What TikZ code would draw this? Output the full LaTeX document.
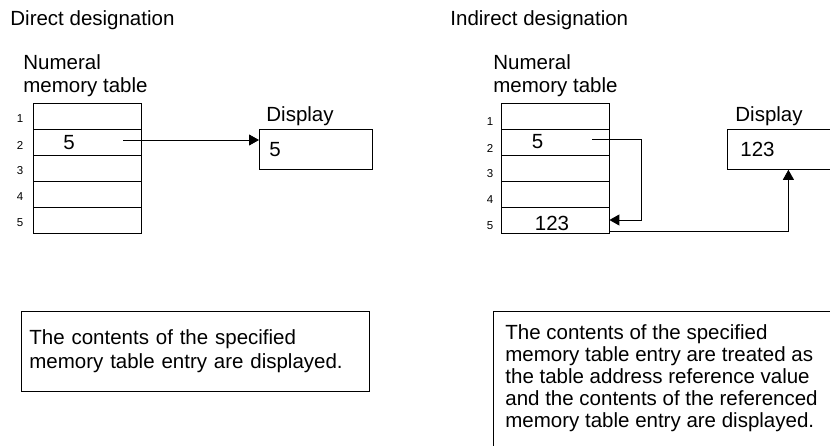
\documentclass[tikz,border=0pt]{standalone}
\usepackage{fontspec}
\setmainfont{Liberation Sans}
\usetikzlibrary{arrows.meta,positioning}

\begin{document}
\begin{tikzpicture}[
  x=1pt, y=-1pt,
  font=\fontsize{20.5}{22}\selectfont,
  line width=0.8pt,
  cell/.style={draw, minimum width=108pt, minimum height=26pt, inner sep=0pt},
  idx/.style={font=\fontsize{11.5}{12}\selectfont, inner sep=0pt},
  label/.style={inner sep=0pt, anchor=base west},
  disp/.style={draw, minimum height=40pt, inner ysep=0pt, align=left, anchor=north west},
  note/.style={align=left, inner sep=0pt, anchor=north west},
  arrow/.style={-{Triangle[length=10pt,width=11pt]}, line width=0.9pt}
]
\useasboundingbox (0,0) rectangle (830,446);
\clip (0,0) rectangle (830,446);

% direct designation
\node[label] (dtitle) at (10,26) {Direct designation};
\node[note, font=\fontsize{20.5}{23.5}\selectfont] (dhead) at (23,54) {Numeral\\memory table};
\foreach \i in {1,...,5} {
  \node[cell] (dr\i) at (87,90+26*\i) {};
  \node[idx] (dn\i) at (20,93+26*\i) {\i};
}
\node (dval) at (69,143) {5};
\coordinate (da) at (123,140);
\node[label] (dlab) at (266,122) {Display};
\node[disp, minimum width=113pt, text width=93pt, inner xsep=10pt] (ddisp) at (259,129) {5};
\draw[arrow] (da) -- (da -| ddisp.west);
\node[draw, anchor=north west, minimum width=348pt, minimum height=80pt,
  text width=332pt, inner xsep=8pt, align=left, font=\fontsize{20.5}{23.5}\selectfont]
  (dnote) at (21,311) {The contents of the specified\\memory table entry are displayed.};

% indirect designation
\node[label] (ititle) at (450,26) {Indirect designation};
\node[note, font=\fontsize{20.5}{23.5}\selectfont] (ihead) at (493,54) {Numeral\\memory table};
\foreach \i in {1,...,5} {
  \node[cell] (ir\i) at (555,90+26*\i) {};
  \node[idx] (in\i) at (490,96+26*\i) {\i};
}
\node (ival) at (537.5,142) {5};
\node (iref) at (552,223) {123};
\coordinate (ia) at (592,139);
\node[label] (ilab) at (735,122) {Display};
\node[disp, minimum width=122pt, text width=96pt, inner xsep=13pt] (idisp) at (727,129) {123};
\draw[arrow] (ia) -- ++(49,0) |- (ir5.east);
\draw[arrow] ([yshift=2pt]ir5.south east) -| (idisp.south);
\node[note] (inote) at (505,324) {The contents of the specified\\memory table entry are treated as\\the table address reference value\\and the contents of the referenced\\memory table entry are displayed.};
\draw (493,311) rectangle (870,480);
\end{tikzpicture}
\end{document}
